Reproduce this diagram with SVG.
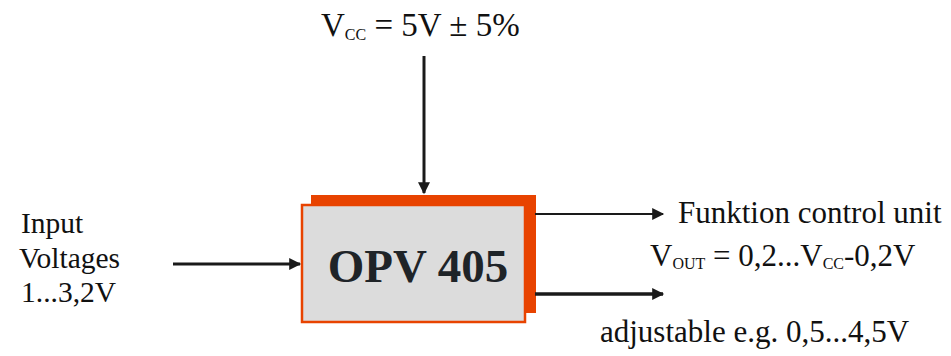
<svg xmlns="http://www.w3.org/2000/svg" width="951" height="356" viewBox="0 0 951 356">
<defs>
<style>
.t{font-family:"Liberation Serif","Times New Roman",serif;fill:#111;font-size:31px}
.s{font-size:16px}
.ln{stroke:#1a1a1a;fill:none}
</style>
<marker id="ah" viewBox="0 0 10 10" refX="9" refY="5" markerWidth="14" markerHeight="12" markerUnits="userSpaceOnUse" orient="auto"><path d="M0,0 L10,5 L0,10 Z" fill="#1a1a1a"/></marker>
</defs>
<rect width="951" height="356" fill="#fff"/>
<g id="opv405">
<rect x="311" y="195" width="225" height="118" fill="#e84300"/>
<rect x="302" y="205" width="223" height="117" fill="#dcdcdc" stroke="#e84300" stroke-width="2.5"/>
<text x="418" y="282" text-anchor="middle" class="t" style="font-size:47px;font-weight:bold;fill:#1f2428">OPV 405</text>
</g>
<g id="connectors">
<line class="ln" x1="424" y1="56" x2="424" y2="193" stroke-width="3" marker-end="url(#ah)"/>
<line class="ln" x1="173" y1="264" x2="300" y2="264" stroke-width="3" marker-end="url(#ah)"/>
<line class="ln" x1="535" y1="214" x2="663" y2="214" stroke-width="2" marker-end="url(#ah)"/>
<line class="ln" x1="535" y1="294" x2="663" y2="294" stroke-width="3.5" marker-end="url(#ah)"/>
</g>
<g id="vcc">
<text x="321" y="36" class="t" style="font-size:33px">V<tspan class="s" dy="4">CC</tspan><tspan dy="-4"> = 5V ± 5%</tspan></text>
</g>
<g id="input">
<text x="21" y="233" class="t" style="font-size:29.5px">Input</text>
<text x="19" y="268" class="t" style="font-size:29.5px">Voltages</text>
<text x="21" y="302" class="t" style="font-size:29.5px">1...3,2V</text>
</g>
<g id="funktion">
<text x="678" y="223" class="t">Funktion control unit</text>
</g>
<g id="vout">
<text x="650" y="266" class="t">V<tspan class="s" dy="3">OUT</tspan><tspan dy="-3"> = 0,2...V</tspan><tspan class="s" dy="3">CC</tspan><tspan dy="-3">-0,2V</tspan></text>
</g>
<g id="adjustable">
<text x="600" y="342" class="t">adjustable e.g. 0,5...4,5V</text>
</g>
</svg>
